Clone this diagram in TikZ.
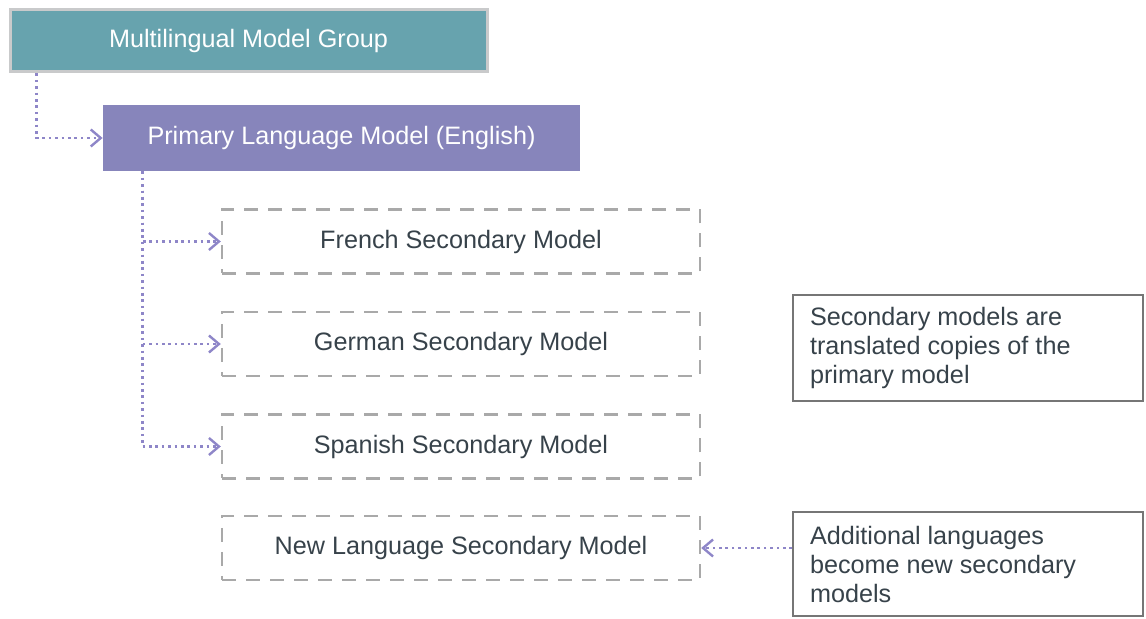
\documentclass[tikz,border=0pt]{standalone}
\usepackage{fontspec}
\setmainfont{Liberation Sans}
\usepackage{xcolor}
\usetikzlibrary{positioning, arrows.meta, calc}

\definecolor{groupTeal}{HTML}{67A3AE}
\definecolor{groupEdge}{HTML}{C9CACB}
\definecolor{primPurple}{HTML}{8785BB}
\definecolor{linkPurple}{HTML}{8E86C8}
\definecolor{textDark}{HTML}{37424A}
\definecolor{dashGray}{HTML}{A9A9A9}
\definecolor{noteEdge}{HTML}{767676}

\begin{document}
\begin{tikzpicture}[
    x=0.5pt, y=-0.5pt,
    font=\fontsize{12.6}{14.5}\selectfont,
    groupNode/.style={rectangle, draw=groupEdge, line width=1.5pt, fill=groupTeal, text=white, minimum width=238.5pt, minimum height=31pt},
    primNode/.style={rectangle, fill=primPurple, text=white, minimum width=238.5pt, minimum height=33pt},
    secNode/.style={rectangle, draw=dashGray, line width=1.2pt, dash pattern=on 7pt off 5pt, text=textDark, minimum width=239pt, minimum height=32pt},
    noteNode/.style={rectangle, draw=noteEdge, line width=1pt, text=textDark, minimum width=175pt, minimum height=53pt, text width=158pt, align=flush left, inner xsep=8.5pt},
    link/.style={linkPurple, line width=1.3pt, dash pattern=on 1.3pt off 1.9pt, -{Straight Barb[length=5pt, width=8.5pt, line width=1.2pt]}}
]
    \useasboundingbox (0,0) rectangle (1146,619);

    % Top of the hierarchy
    \node[groupNode] (group) at (248.5, 41) {Multilingual Model Group};
    \node[primNode] (primary) at (341.5, 138) {Primary Language Model (English)};

    % Secondary models
    \node[secNode] (french) at (461, 241.5) {French Secondary Model};
    \node[secNode] (german) at (461, 344) {German Secondary Model};
    \node[secNode] (spanish) at (461, 446.5) {Spanish Secondary Model};
    \node[secNode] (newlang) at (461, 548) {New Language Secondary Model};

    % Notes
    \node[noteNode] (noteCopies) at (968, 348) {Secondary models are\\translated copies of the\\primary model};
    \node[noteNode, minimum height=52pt] (noteNew) at (968, 564.5) {Additional languages\\become new secondary\\models};

    % Connecting lines
    \coordinate (groupDrop) at ($(group.south west)+(28,0)$);
    \coordinate (primDrop) at ($(primary.south west)+(40,0)$);
    \draw[link] (groupDrop) |- (primary.west);
    \foreach \sec in {french, german, spanish}
        \draw[link] (primDrop) |- (\sec.west);
    \draw[link] (noteNew.west |- newlang.east) -- (newlang.east);

\end{tikzpicture}
\end{document}
